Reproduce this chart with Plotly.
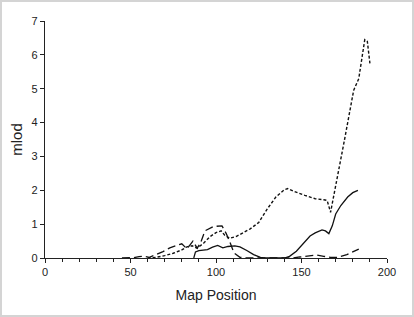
import plotly.graph_objects as go

# Dotted (short dash) series
dot_x = [60, 65, 70, 75, 80, 83, 86, 89, 93, 96.5, 100, 103, 105, 108, 112, 116, 120, 125, 130, 135, 140, 142, 146, 152, 158, 163, 165, 167, 170, 175, 180.5, 183.5, 187, 188.5, 190]
dot_y = [0, 0.02, 0.07, 0.14, 0.24, 0.33, 0.36, 0.29, 0.45, 0.63, 0.75, 0.8, 0.68, 0.58, 0.64, 0.74, 0.86, 1.05, 1.45, 1.8, 2.02, 2.05, 1.96, 1.85, 1.75, 1.72, 1.7, 1.35, 2.1, 3.45, 4.95, 5.3, 6.45, 6.4, 5.75]

# Long dash series
dash_x = [45, 52, 55, 58, 61, 65, 69, 73, 77, 80, 83, 86.5, 89, 91, 93.5, 98.5, 103.5, 106, 108.5, 110.5, 114, 118, 130, 145, 149, 155, 159, 163, 167, 171, 176.5, 183.5]
dash_y = [0, 0.01, 0.04, 0.05, 0.02, 0.1, 0.19, 0.3, 0.38, 0.42, 0.27, 0.5, 0.29, 0.45, 0.8, 0.93, 0.95, 0.72, 0.42, 0.15, 0.02, 0, 0, 0, 0.03, 0.07, 0.09, 0.05, 0.02, 0.02, 0.1, 0.26]

# Solid series
solid_x = [87, 88, 90, 95, 98, 101, 104, 107, 111, 114, 118, 122, 126, 128, 140, 143, 147, 151, 155, 158, 162, 164, 166, 168, 170, 173, 177, 180, 183]
solid_y = [0, 0.18, 0.22, 0.25, 0.32, 0.37, 0.3, 0.34, 0.36, 0.33, 0.22, 0.1, 0.02, 0, 0, 0.05, 0.2, 0.42, 0.65, 0.74, 0.83, 0.8, 0.72, 0.95, 1.3, 1.55, 1.8, 1.93, 2.0]

x_ticks = [0, 50, 100, 150, 200]
y_ticks = [0, 1, 2, 3, 4, 5, 6, 7]

fig = go.Figure()
fig.add_trace(go.Scatter(x=dot_x, y=dot_y, mode="lines",
                         line=dict(color="#111111", width=1.4, dash="3px,2px"), showlegend=False))
fig.add_trace(go.Scatter(x=dash_x, y=dash_y, mode="lines",
                         line=dict(color="#111111", width=1.3, dash="8px,4px"), showlegend=False))
fig.add_trace(go.Scatter(x=solid_x, y=solid_y, mode="lines",
                         line=dict(color="#111111", width=1.3), showlegend=False))

L, R, T, B = 45, 27, 21, 59
W, H = 414, 317
pw, ph = W - L - R, H - T - B

fig.add_shape(type="rect", xref="paper", yref="paper",
              x0=(1 - L) / pw, x1=(W - 1 - L) / pw,
              y0=-(B - 1) / ph, y1=1 + (T - 1) / ph,
              line=dict(color="#d4d4d4", width=2), fillcolor="rgba(0,0,0,0)", layer="below")

fig.update_layout(
    width=W, height=H,
    margin=dict(l=L, r=R, t=T, b=B),
    paper_bgcolor="white", plot_bgcolor="white",
    font=dict(family="Liberation Sans, Arial, sans-serif", color="#222222", size=11),
    xaxis=dict(range=[0, 200], tickvals=x_ticks, ticks="outside", ticklen=4,
               tickcolor="#222222", showline=True, linecolor="#222222", linewidth=1.3,
               showgrid=False, zeroline=False,
               minor=dict(dtick=10, ticks="outside", ticklen=3, tickcolor="#222222"),
               title=dict(text="Map Position", font=dict(size=14), standoff=12)),
    yaxis=dict(range=[0, 7], tickvals=y_ticks, ticks="outside", ticklen=4,
               tickcolor="#222222", showline=True, linecolor="#222222", linewidth=1.3,
               showgrid=False, zeroline=False,
               title=dict(text="mlod", font=dict(size=15), standoff=5)),
)

fig.write_html("out.html")
